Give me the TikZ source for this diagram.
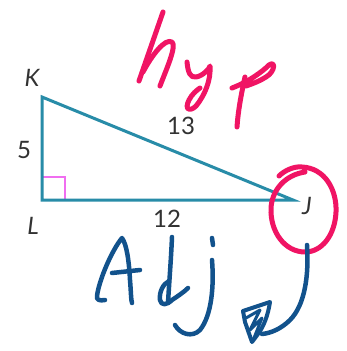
\documentclass[tikz,border=0pt]{standalone}
\usepackage{fontspec}
\setmainfont{Lato}
\begin{document}
\begin{tikzpicture}[x=1pt,y=-1pt,
  side/.style={draw=tri, line width=3pt, line join=miter},
  lbl/.style={text=lbltext, font=\fontsize{24}{24}\selectfont, inner sep=0pt},
  vlbl/.style={lbl, font=\fontsize{24}{24}\selectfont\itshape},
  ink/.style={line width=5pt, line cap=round, line join=round},
  pinkink/.style={ink, draw=pinkc},
  blueink/.style={ink, draw=bluec, line width=4.5pt}]
\definecolor{tri}{RGB}{40,140,168}
\definecolor{lbltext}{RGB}{50,50,50}
\definecolor{pinkc}{RGB}{240,20,100}
\definecolor{bluec}{RGB}{18,82,140}
\definecolor{rightang}{RGB}{240,110,240}
\useasboundingbox (0,0) rectangle (347,351);
\fill[white] (0,0) rectangle (347,351);
% triangle
\coordinate (K) at (42,97);
\coordinate (L) at (42,200);
\coordinate (J) at (293,200);
\draw[rightang, line width=2pt] (42,177) -- (65,177) -- (65,200);
\draw[side] (K) -- (L) -- (J) -- cycle;
% labels
\node[vlbl] (lK) at (32,78) {K};
\node[lbl] (l5) at (24,150) {5};
\node[vlbl] (lL) at (33,226) {L};
\node[lbl] (l13) at (181,126) {13};
\node[lbl] (l12) at (167,219) {12};
\node[vlbl] (lJ) at (307,206) {J};
% handwriting hyp
\draw[pinkink] (163,12) -- (139,81);
\draw[pinkink] (143,72) .. controls (152,55) and (165,38) .. (172,42) .. controls (177,46) and (166,70) .. (160,86);
\draw[pinkink] (187,62) .. controls (188,72) and (190,78) .. (196,77) .. controls (203,76) and (210,68) .. (210,66)
  .. controls (211,80) and (205,95) .. (196,106) .. controls (190,112) and (184,110) .. (189,100) .. controls (192,94) and (197,90) .. (200,88);
\draw[pinkink] (245,77) .. controls (241,95) and (238,112) .. (237,127);
\draw[pinkink] (232,88) .. controls (248,82) and (262,72) .. (269,65) .. controls (276,60) and (275,72) .. (266,77) .. controls (260,81) and (252,84) .. (246,86);
% circle around J
\draw[pinkink] (279,176) .. controls (285,170) and (295,166) .. (302,167)
  .. controls (325,168) and (337,190) .. (336,212)
  .. controls (335,235) and (322,252) .. (305,252)
  .. controls (285,252) and (270,232) .. (271,208)
  .. controls (272,190) and (285,175) .. (305,172);
% handwriting Adj
\draw[blueink] (105,300) .. controls (100,301) and (96,300) .. (97,296) .. controls (99,280) and (112,250) .. (122,238)
  .. controls (127,245) and (129,262) .. (130,280) .. controls (131,292) and (131,300) .. (132,303);
\draw[blueink] (112,273) -- (140,270);
\draw[blueink] (172,237) .. controls (171,260) and (169,285) .. (168,303);
\draw[blueink] (169,281) .. controls (163,284) and (159,292) .. (160,300) .. controls (161,306) and (167,305) .. (172,300) .. controls (178,296) and (184,292) .. (188,288);
\draw[blueink] (212,238) -- (213,245);
\draw[blueink] (212,260) .. controls (214,285) and (212,315) .. (200,330) .. controls (192,338) and (180,334) .. (175,325);
% arrow
\draw[blueink] (307,245) .. controls (309,275) and (305,305) .. (290,320) .. controls (282,328) and (272,333) .. (262,334);
\draw[blueink, line width=4pt] (243,311) -- (270,302) .. controls (268,315) and (264,326) .. (258,334) -- (252,342) -- (245,322) -- (243,311);
\draw[blueink, line width=3pt] (246,318) -- (260,310) -- (250,330) -- (262,318) -- (254,338);
\end{tikzpicture}
\end{document}
